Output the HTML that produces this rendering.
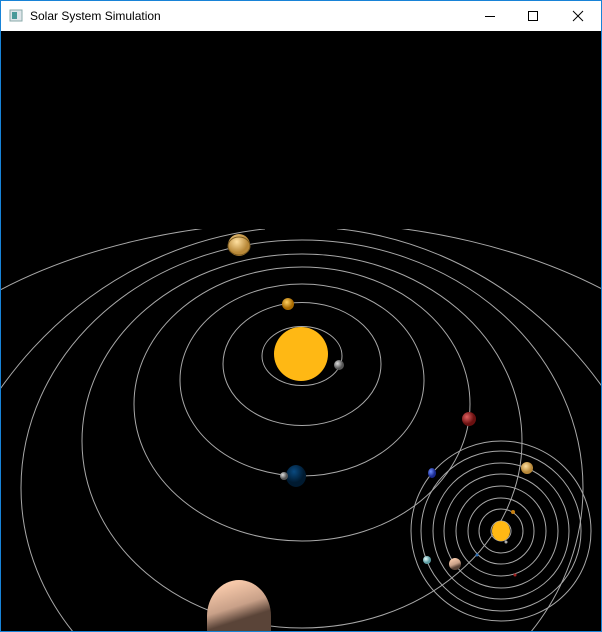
<!DOCTYPE html>
<html><head><meta charset="utf-8"><style>
html,body{margin:0;padding:0}
body{width:602px;height:632px;overflow:hidden;background:#fff;font-family:"Liberation Sans",sans-serif;position:relative}
#win{position:absolute;left:0;top:0;width:602px;height:632px;box-sizing:border-box;border:1px solid #1883d7;background:#fff;overflow:hidden}
#title{position:absolute;left:0;top:0;width:600px;height:30px;background:#fff}
#title span{position:absolute;left:29px;top:8px;font-size:12px;color:#000}
#content{position:absolute;left:0;top:30px;width:600px;height:600px;background:#000;overflow:hidden}
</style></head><body>
<div id="win">
<div id="title">
<svg width="600" height="30" style="position:absolute;left:0;top:0">
<g><rect x="9" y="9" width="12" height="11" fill="#dfe6ea" stroke="#8aa" stroke-width="1"/><rect x="11" y="11" width="5" height="7" fill="#4a9a9a"/></g>
<line x1="484" y1="15.5" x2="494" y2="15.5" stroke="#000"/>
<rect x="527.5" y="10.5" width="9" height="9" fill="none" stroke="#000"/>
<g stroke="#000"><line x1="572" y1="10" x2="582" y2="20"/><line x1="582" y1="10" x2="572" y2="20"/></g>
</svg>
<span>Solar System Simulation</span>
</div>
<div id="content">
<svg id="sv" width="600" height="600" viewBox="0 30 600 600" style="display:block;overflow:hidden">
<defs>
<radialGradient id="gGray" cx="35%" cy="35%"><stop offset="0" stop-color="#ddd"/><stop offset="1" stop-color="#555"/></radialGradient>
<radialGradient id="gVen" cx="40%" cy="35%"><stop offset="0" stop-color="#ffd060"/><stop offset="1" stop-color="#a86a00"/></radialGradient>
<radialGradient id="gJup" cx="40%" cy="35%"><stop offset="0" stop-color="#ffe0a0"/><stop offset="1" stop-color="#b88838"/></radialGradient>
<radialGradient id="gMars" cx="35%" cy="35%"><stop offset="0" stop-color="#e06060"/><stop offset="1" stop-color="#6a1010"/></radialGradient>
<radialGradient id="gEarth" cx="40%" cy="30%"><stop offset="0" stop-color="#0a4a80"/><stop offset="1" stop-color="#001a30"/></radialGradient>
<radialGradient id="gBlue" cx="35%" cy="35%"><stop offset="0" stop-color="#7090ff"/><stop offset="1" stop-color="#1a2a90"/></radialGradient>
<linearGradient id="gPeach" x1="0.3" y1="0" x2="0.7" y2="1"><stop offset="0" stop-color="#ffd0b0"/><stop offset="0.5" stop-color="#c8a088"/><stop offset="0.75" stop-color="#5a4438"/></linearGradient>
<radialGradient id="gIce" cx="35%" cy="35%"><stop offset="0" stop-color="#e8ffff"/><stop offset="1" stop-color="#5a9aa0"/></radialGradient>
<clipPath id="clipTop"><path d="M0,228 L264,228 L264,234 L336,234 L336,228 L600,228 L600,630 L0,630 Z"/></clipPath>
<clipPath id="clipAll"><rect x="0" y="30" width="600" height="600"/></clipPath>
</defs>
<g clip-path="url(#clipAll)">
<g id="orbits" clip-path="url(#clipTop)" fill="none" stroke="#a8a8a8" stroke-width="1"></g>
<g id="small" fill="none" stroke="#a8a8a8" stroke-width="1"></g>
<circle cx="300" cy="353" r="27" fill="#ffb814"/>
<circle cx="338" cy="364" r="5" fill="url(#gGray)"/>
<ellipse cx="287" cy="303" rx="6" ry="6" fill="url(#gVen)"/>
<circle cx="238" cy="244" r="11" fill="url(#gJup)"/>
<ellipse cx="238" cy="245" rx="11" ry="9" fill="none" stroke="#7a5a20" stroke-width="1"/>
<circle cx="468" cy="418" r="7" fill="url(#gMars)"/>
<ellipse cx="295" cy="475" rx="10" ry="11" fill="url(#gEarth)"/>
<circle cx="283" cy="475" r="4" fill="url(#gGray)"/>
<ellipse cx="431" cy="472" rx="4" ry="5" fill="url(#gBlue)"/>
<path d="M206,630 L206,615 A32,36 0 0 1 270,615 L270,630 Z" fill="url(#gPeach)"/>
<ellipse cx="500" cy="530" rx="9" ry="10" fill="#ffb814"/>
<circle cx="512" cy="511" r="2" fill="#c88010"/>
<circle cx="505" cy="541" r="1.5" fill="#aaa"/>
<circle cx="476" cy="554" r="1.5" fill="#2a6ab0"/>
<circle cx="514" cy="574" r="1.5" fill="#a02020"/>
<circle cx="526" cy="467" r="6" fill="url(#gJup)"/>
<circle cx="454" cy="563" r="6" fill="url(#gPeach)"/>
<circle cx="426" cy="559" r="4" fill="url(#gIce)"/>
</g>
</svg>
</div>
</div>
<script>
const orbitCx=[301,301,301,301,301,301,301,301];
const orbitCy=[355,363,379,403,440,487,639,498];
const orbitRx=[40,79,122,168,220,281,380,460];
const orbitRy=[29.5,61.5,96,137,187,248,413,277];
const insetRadii=[10,22,33,45,57,68,80,90];
const insetCx=500, insetCy=530;
const NS='http://www.w3.org/2000/svg';
const og=document.getElementById('orbits');
orbitRx.forEach((rx,i)=>{
  const e=document.createElementNS(NS,'ellipse');
  
  
  e.setAttribute('cx',orbitCx[i]);e.setAttribute('cy',orbitCy[i]);
  e.setAttribute('rx',rx);e.setAttribute('ry',orbitRy[i]);
  og.appendChild(e);
});
const sg=document.getElementById('small');
insetRadii.forEach((r,i)=>{
  const c=document.createElementNS(NS,'circle');
  
  
  c.setAttribute('cx',insetCx);c.setAttribute('cy',insetCy);c.setAttribute('r',r);
  sg.appendChild(c);
});
</script>
</body></html>
